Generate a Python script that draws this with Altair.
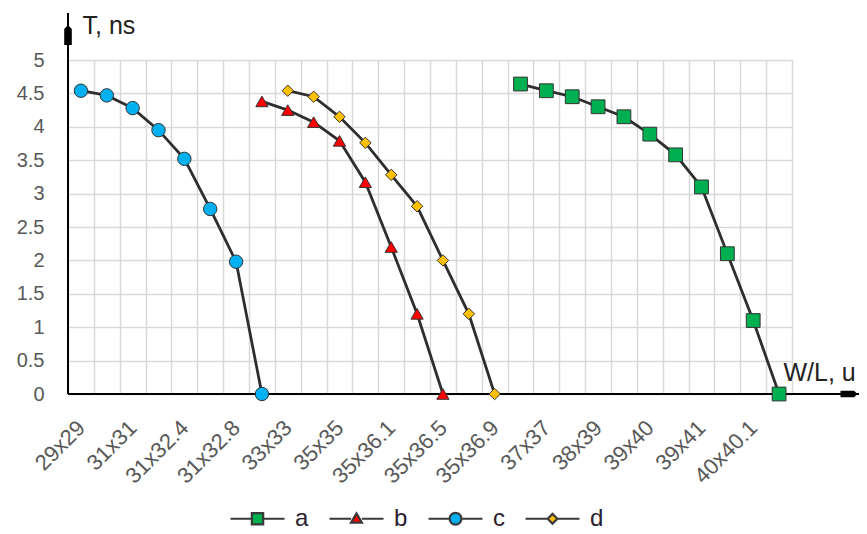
import altair as alt
import pandas as pd

# ---------------- data ----------------
x_labels = ["29x29", "31x31", "31x32.4", "31x32.8", "33x33", "35x35", "35x36.1",
            "35x36.5", "35x36.9", "37x37", "38x39", "39x40", "39x41", "40x40.1"]
n_categories = 28          # labelled every other category
series_names = ["a", "b", "c", "d"]

a_start = 17
a_values = [4.64, 4.54, 4.45, 4.30, 4.15, 3.89, 3.58, 3.10, 2.10, 1.10, 0.0]
b_start = 7
b_values = [4.38, 4.25, 4.07, 3.79, 3.17, 2.20, 1.20, 0.0]
c_start = 0
c_values = [4.54, 4.47, 4.28, 3.95, 3.52, 2.77, 1.98, 0.0]
d_start = 8
d_values = [4.54, 4.45, 4.15, 3.76, 3.28, 2.81, 2.00, 1.20, 0.0]

y_ticks = [0, 0.5, 1, 1.5, 2, 2.5, 3, 3.5, 4, 4.5, 5]

# ---------------- styles ----------------
fills = {"a": "#00b050", "b": "#ff0000", "c": "#00b0f0", "d": "#ffc000"}
shapes = {"a": "square", "b": "triangle-up", "c": "circle", "d": "diamond"}
sizes = {"a": 190, "b": 150, "c": 180, "d": 130}

legend_paths = {
    "a": "M-1,0H-0.21M0.21,0H1M-0.21,-0.21H0.21V0.21H-0.21Z",
    "b": "M-1,0H-0.2M0.2,0H1M-0.2,0.14L0,-0.2L0.2,0.14Z",
    "c": "M-1,0H-0.22M0.22,0H1M-0.22,0A0.22,0.22,0,1,1,0.22,0A0.22,0.22,0,1,1,-0.22,0Z",
    "d": "M-1,0H-0.18M0.18,0H1M-0.18,0L0,-0.18L0.18,0L0,0.18Z",
}

rows = []
for name, start, vals in [("a", a_start, a_values), ("b", b_start, b_values),
                          ("c", c_start, c_values), ("d", d_start, d_values)]:
    for i, v in enumerate(vals):
        rows.append({"series": name, "pos": start + i, "T": v})
df = pd.DataFrame(rows)

label_array = "[" + ",".join("'%s'" % s for s in x_labels) + "]"
label_expr = "datum.value % 2 == 0 ? " + label_array + "[datum.value / 2] : ''"

FONT = "Liberation Sans"
W, H = 724, 334

x_enc = alt.X(
    "pos:O",
    bandPosition=0.5,
    scale=alt.Scale(type="band", domain=list(range(n_categories)),
                    paddingInner=0, paddingOuter=0),
    axis=alt.Axis(grid=True, tickBand="extent", ticks=False, domain=False,
                  gridColor="#d9d9d9", gridWidth=1.5,
                  labelAngle=-45, labelAlign="right", labelBaseline="middle",
                  labelExpr=label_expr, labelFontSize=22, labelColor="#595959",
                  labelPadding=30, labelFont=FONT,
                  title="W/L, u", titleX=715, titleY=-14, titleAlign="left",
                  titleBaseline="alphabetic", titleFontSize=25,
                  titleFontWeight="normal", titleColor="#222222", titleFont=FONT),
)
y_enc = alt.Y(
    "T:Q",
    scale=alt.Scale(domain=[0, 5], nice=False),
    axis=alt.Axis(values=y_ticks, grid=True, gridColor="#d9d9d9", gridWidth=1.5,
                  ticks=False, domain=False, format="~g",
                  labelFontSize=20, labelColor="#595959", labelPadding=24,
                  labelFont=FONT,
                  title="T, ns", titleAngle=0, titleX=14, titleY=-27,
                  titleAlign="left", titleBaseline="alphabetic",
                  titleFontSize=25, titleFontWeight="normal",
                  titleColor="#222222", titleFont=FONT),
)

base = alt.Chart(df)

lines = base.mark_line(color="#2e2e2e", strokeWidth=2.8).encode(
    x=x_enc, y=y_enc, detail="series:N")

point_layers = []
for s in series_names:
    point_layers.append(
        base.transform_filter(alt.datum.series == s).mark_point(
            filled=True, opacity=1, fill=fills[s], stroke="#333333",
            strokeWidth=1, shape=shapes[s], size=sizes[s]).encode(x=x_enc, y=y_enc)
    )

# legend-only layer (marks placed off-canvas, legend carries line + marker symbols)
legend_layer = base.mark_point(filled=True, opacity=1, stroke="#3a3a3a",
                               strokeWidth=2.2).encode(
    x=alt.value(-2000), y=alt.value(-2000),
    color=alt.Color("series:N",
                    scale=alt.Scale(domain=series_names,
                                    range=[fills[s] for s in series_names]),
                    legend=alt.Legend(
                        orient="none", legendX=161, legendY=430,
                        direction="horizontal", columns=4, title=None,
                        padding=0, symbolSize=2916, symbolStrokeWidth=2.2,
                        symbolStrokeColor="#3a3a3a", symbolOpacity=1,
                        labelFontSize=24, labelColor="#2a2030", labelFont=FONT,
                        labelOffset=9, columnPadding=16)),
    shape=alt.Shape("series:N",
                    scale=alt.Scale(domain=series_names,
                                    range=[legend_paths[s] for s in series_names])),
)

one = alt.Data(values=[{}])
x_axis_line = alt.Chart(one).mark_rule(color="black", strokeWidth=2).encode(
    x=alt.value(0), x2=alt.value(794), y=alt.value(H))
y_axis_line = alt.Chart(one).mark_rule(color="black", strokeWidth=2).encode(
    x=alt.value(0), y=alt.value(-47), y2=alt.value(H))
x_arrow = alt.Chart(one).mark_point(
    shape="M1,0L0.6,-0.38L-1,-0.38L-1,0.38L0.6,0.38Z", filled=True,
    color="black", opacity=1, size=289).encode(x=alt.value(781), y=alt.value(H))
y_arrow = alt.Chart(one).mark_point(
    shape="M0,-1L0.38,-0.6L0.38,1L-0.38,1L-0.38,-0.6Z", filled=True,
    color="black", opacity=1, size=400).encode(x=alt.value(0), y=alt.value(-25))

chart = alt.layer(lines, x_axis_line, y_axis_line, x_arrow, y_arrow,
                  *point_layers, legend_layer).properties(
    width=W, height=H,
    autosize=alt.AutoSizeParams(type="none"),
    padding={"left": 60, "top": 52, "right": 67, "bottom": 140},
).configure_view(stroke=None).configure(background="white")

chart.save("out.html", embed_options={"renderer": "svg", "actions": False})
